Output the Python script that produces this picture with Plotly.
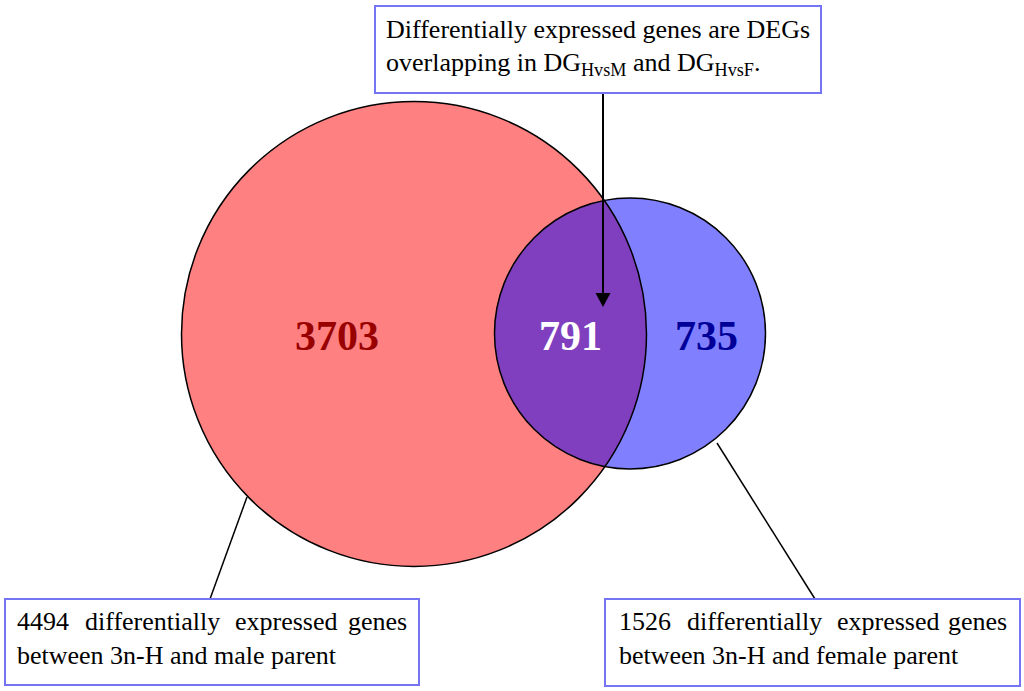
import numpy as np
import plotly.graph_objects as go

# venn counts
region_names = ["HvsM only", "HvsM and HvsF", "HvsF only"]
region_counts = [3703, 791, 735]
set_totals = [4494, 1526]
set_parents = ["male", "female"]

W, H = 1024, 691
serif = "Liberation Serif"

# circle geometry in pixels (centre x, centre y, radius)
red_c = (414, 334, 232.5)
blue_c = (630, 333.5, 135.5)

# arrow from the top box down into the overlap
arrow_x, arrow_y0, arrow_y1 = 603, 93, 307
head_w, head_h = 7.5, 14


def lens_path(c1, c2, n=120):
    # intersection of two circles as an svg path
    x1, y1, r1 = c1
    x2, y2, r2 = c2
    d = np.hypot(x2 - x1, y2 - y1)
    a = (r1**2 - r2**2 + d**2) / (2 * d)
    phi = np.arctan2(y2 - y1, x2 - x1)
    alpha = np.arccos(a / r1)
    beta = np.arccos((d - a) / r2)
    t = np.linspace(phi - alpha, phi + alpha, n)
    arc1 = np.c_[x1 + r1 * np.cos(t), y1 + r1 * np.sin(t)]
    t = np.linspace(phi + np.pi - beta, phi + np.pi + beta, n)
    arc2 = np.c_[x2 + r2 * np.cos(t), y2 + r2 * np.sin(t)]
    pts = np.vstack([arc1, arc2])
    return "M " + " L ".join(f"{x:.2f},{y:.2f}" for x, y in pts) + " Z"


def circle(c, fill, line):
    x, y, r = c
    return dict(type="circle", xref="x", yref="y", x0=x - r, x1=x + r, y0=y - r, y1=y + r,
                fillcolor=fill, line=line, layer="above")


box_line = dict(color="#7474F4", width=2)
shapes = [
    circle(red_c, "#FF8080", dict(width=0)),
    circle(blue_c, "#8080FF", dict(width=0)),
    dict(type="path", path=lens_path(red_c, blue_c), fillcolor="#7F3FBF", line=dict(width=0), layer="above"),
    circle(red_c, "rgba(0,0,0,0)", dict(color="black", width=1.5)),
    circle(blue_c, "rgba(0,0,0,0)", dict(color="black", width=1.5)),
    # leader lines
    dict(type="line", x0=247, y0=497, x1=210, y1=599, line=dict(color="black", width=1.5)),
    dict(type="line", x0=717, y0=443, x1=815, y1=599, line=dict(color="black", width=1.5)),
    # arrow
    dict(type="line", x0=arrow_x, x1=arrow_x, y0=arrow_y0, y1=arrow_y1 - head_h + 1,
         line=dict(color="black", width=2)),
    dict(type="path",
         path=f"M {arrow_x - head_w},{arrow_y1 - head_h} L {arrow_x + head_w},{arrow_y1 - head_h} "
              f"L {arrow_x},{arrow_y1} Z",
         fillcolor="black", line=dict(width=0)),
    # text boxes
    dict(type="rect", x0=375, x1=821, y0=6, y1=93, fillcolor="white", line=box_line),
    dict(type="rect", x0=5, x1=419, y0=599, y1=685, fillcolor="white", line=box_line),
    dict(type="rect", x0=605, x1=1020, y0=599, y1=686, fillcolor="white", line=box_line),
]

fig = go.Figure()
fig.add_trace(go.Scatter(x=[0, W], y=[0, H], mode="markers", marker=dict(opacity=0), hoverinfo="skip"))

annotations = []
# region counts
num_pos = [(337, 336, "#990000"), (570, 336, "white"), (706, 336, "#000099")]
for (x, y, col), n in zip(num_pos, region_counts):
    annotations.append(dict(x=x, y=y, text=f"<b>{n}</b>", showarrow=False,
                            font=dict(family=serif, size=42, color=col)))

# top box text
annotations.append(dict(x=384, y=29, text="Differentially expressed genes are DEGs", showarrow=False,
                        xanchor="left", font=dict(family=serif, size=26, color="black")))
annotations.append(dict(x=384, y=64, text="overlapping in DG<sub>HvsM</sub> and DG<sub>HvsF</sub>.",
                        showarrow=False, xanchor="left", font=dict(family=serif, size=26, color="black")))

# bottom boxes, first line justified word by word
word_x = [[15, 83, 233, 409], [617, 685, 835, 1009]]
line_x = [15, 617]
for i in range(2):
    words = [str(set_totals[i]), "differentially", "expressed", "genes"]
    for j, (wd, x) in enumerate(zip(words, word_x[i])):
        annotations.append(dict(x=x, y=621, text=wd, showarrow=False,
                                xanchor="right" if j == 3 else "left",
                                font=dict(family=serif, size=26, color="black")))
    annotations.append(dict(x=line_x[i], y=655, text=f"between 3n-H and {set_parents[i]} parent",
                            showarrow=False, xanchor="left",
                            font=dict(family=serif, size=26, color="black")))

fig.update_layout(
    width=W, height=H,
    margin=dict(l=0, r=0, t=0, b=0),
    plot_bgcolor="white", paper_bgcolor="white",
    showlegend=False,
    xaxis=dict(range=[0, W], visible=False, fixedrange=True),
    yaxis=dict(range=[H, 0], visible=False, fixedrange=True),
    shapes=shapes,
    annotations=annotations,
)

# page body has a default 8px margin; drop it so the figure fills the window
fig.write_html("out.html", config={"displayModeBar": False},
               post_script="document.body.style.margin='0';")
